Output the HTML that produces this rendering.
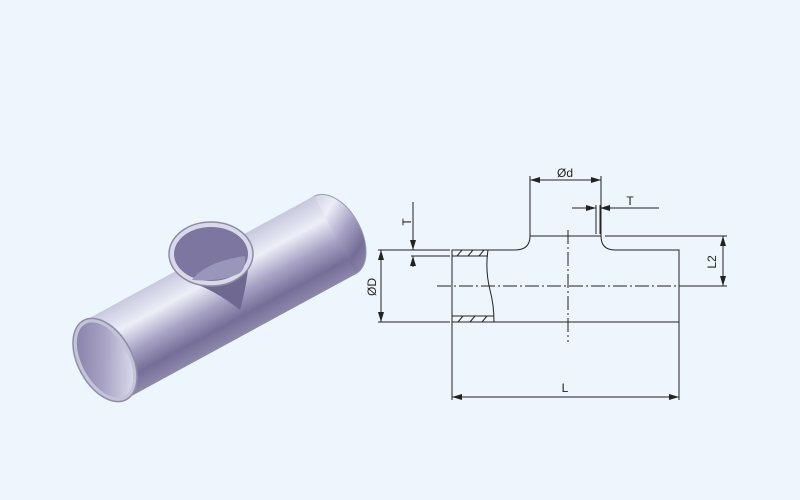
<!DOCTYPE html>
<html><head><meta charset="utf-8"><style>
html,body{margin:0;padding:0;background:#eef6fd;}
svg{display:block;}
text{font-family:"Liberation Sans",sans-serif;font-size:12px;fill:#222;}
</style></head><body>
<svg width="800" height="500" viewBox="0 0 800 500">
<defs>
<linearGradient id="tube" gradientUnits="userSpaceOnUse" x1="84" y1="321" x2="126" y2="399">
<stop offset="0" stop-color="#c9c9de"/><stop offset="0.28" stop-color="#eceef7"/>
<stop offset="0.55" stop-color="#a8a3c5"/><stop offset="0.8" stop-color="#756e97"/><stop offset="1" stop-color="#8f89ad"/>
</linearGradient>
<linearGradient id="tube2" gradientUnits="userSpaceOnUse" x1="314" y1="196" x2="356" y2="274">
<stop offset="0" stop-color="#c9c9de"/><stop offset="0.28" stop-color="#eceef7"/>
<stop offset="0.55" stop-color="#a8a3c5"/><stop offset="0.8" stop-color="#756e97"/><stop offset="1" stop-color="#8f89ad"/>
</linearGradient>
<linearGradient id="inner" x1="0" y1="0" x2="1" y2="1">
<stop offset="0" stop-color="#7d769f"/><stop offset="0.5" stop-color="#a9a4c6"/><stop offset="1" stop-color="#eceef7"/>
</linearGradient>
<marker id="a" markerWidth="10" markerHeight="6" refX="10" refY="3" orient="auto-start-reverse" markerUnits="userSpaceOnUse"><path d="M0,0L10,3L0,6z" fill="#222"/></marker>
</defs>
<!-- 3D pipe -->
<ellipse cx="335" cy="235" rx="26" ry="44" transform="rotate(-28.5 335 235)" fill="url(#tube2)" stroke="#9a98b3" stroke-width="1"/>
<path d="M84 321 L314 196 L356 274 L126 399 Z" fill="url(#tube)"/>
<ellipse cx="105" cy="360" rx="27" ry="45" transform="rotate(-28.5 105 360)" fill="#c4c4d8" stroke="#8f8ca9" stroke-width="1.5"/>
<ellipse cx="105" cy="360" rx="23" ry="41" transform="rotate(-28.5 105 360)" fill="url(#inner)"/>
<path d="M172 258 L250 254 Q246 290 240 310 Q215 290 190 282 Z" fill="#6f6890"/>
<ellipse cx="211" cy="254" rx="42" ry="32" fill="#d9d9ea" stroke="#8e8aa8" stroke-width="1.5"/>
<ellipse cx="211" cy="254" rx="37" ry="27" fill="#7c76a0"/>
<path d="M192 280 Q205 262 245 256 Q246 268 240 273 Q222 282 192 280Z" fill="#9a95ba"/>
<!-- drawing -->
<g stroke="#222" stroke-width="1" fill="none">
<path d="M452 250 L515 250 Q530 250 530 236 L601 236 Q601 250 615 250 L679 250 L679 322 L452 322 Z"/>
<line x1="452" y1="256" x2="488" y2="256"/><line x1="452" y1="316" x2="494" y2="316"/>
<path d="M488 250 Q485 270 490 290 Q494 305 494 322"/>
<path d="M457 256 L462 250 M468 256 L473 250 M479 256 L484 250 M458 322 L463 316 M470 322 L475 316 M482 322 L487 316"/>
<line x1="437" y1="286" x2="683" y2="286" stroke-dasharray="14,3,2,3"/>
<line x1="568" y1="230" x2="568" y2="342" stroke-dasharray="14,3,2,3"/>
<line x1="530" y1="236" x2="530" y2="176"/><line x1="601" y1="236" x2="601" y2="176"/>
<line x1="530" y1="180" x2="601" y2="180" marker-start="url(#a)" marker-end="url(#a)"/>
<line x1="596" y1="205" x2="596" y2="234"/><line x1="600" y1="205" x2="600" y2="234"/>
<line x1="572" y1="208" x2="596" y2="208" marker-end="url(#a)"/>
<line x1="659" y1="208" x2="600" y2="208" marker-end="url(#a)"/>
<line x1="411" y1="250" x2="450" y2="250"/><line x1="411" y1="256" x2="450" y2="256"/>
<line x1="413" y1="202" x2="413" y2="250" marker-end="url(#a)"/>
<line x1="413" y1="267" x2="413" y2="256" marker-end="url(#a)"/>
<line x1="378" y1="250" x2="450" y2="250"/><line x1="378" y1="322" x2="450" y2="322"/>
<line x1="381" y1="250" x2="381" y2="322" marker-start="url(#a)" marker-end="url(#a)"/>
<line x1="605" y1="236" x2="727" y2="236"/><line x1="683" y1="286" x2="727" y2="286"/>
<line x1="723" y1="236" x2="723" y2="286" marker-start="url(#a)" marker-end="url(#a)"/>
<line x1="452" y1="322" x2="452" y2="400"/><line x1="679" y1="322" x2="679" y2="400"/>
<line x1="452" y1="397" x2="679" y2="397" marker-start="url(#a)" marker-end="url(#a)"/>
</g>
<text x="565" y="177" text-anchor="middle">Ød</text>
<text x="630" y="205" text-anchor="middle">T</text>
<text x="565" y="392" text-anchor="middle">L</text>
<text transform="translate(411 222) rotate(-90)" text-anchor="middle">T</text>
<text transform="translate(376 287) rotate(-90)" text-anchor="middle">ØD</text>
<text transform="translate(716 262) rotate(-90)" text-anchor="middle">L2</text>
</svg>
</body></html>
